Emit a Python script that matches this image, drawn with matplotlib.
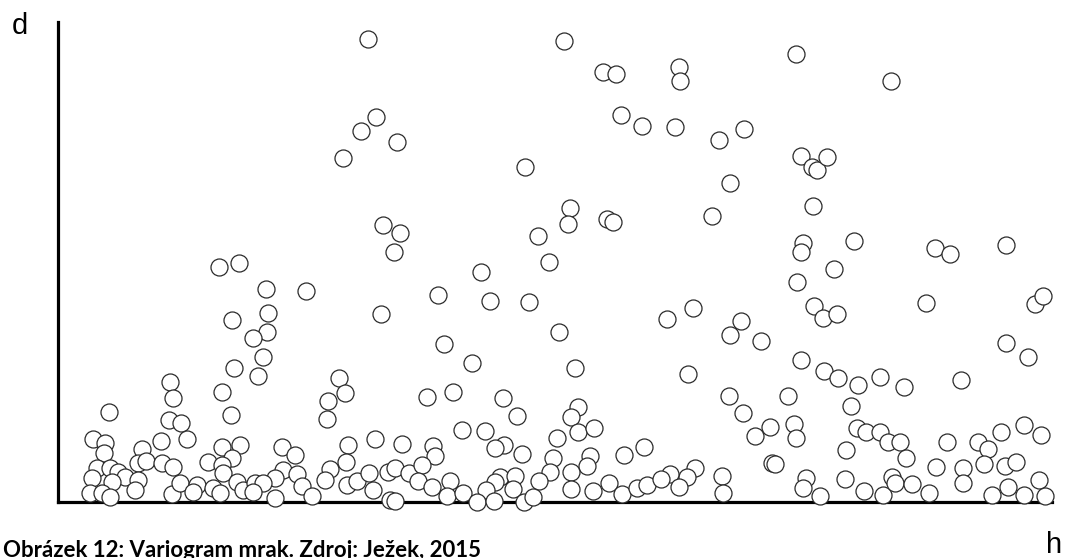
import matplotlib
matplotlib.use('Agg')
import matplotlib.pyplot as plt

# variogram cloud: lag distance h vs. half squared difference d (arbitrary units)
h = [310, 318, 303, 339, 285, 325, 342, 336, 161, 181, 208, 248, 174, 210, 209, 195,
     323, 205, 176, 200, 112, 281, 164,
     506, 545, 558, 621, 622, 563, 584, 617, 661, 672, 467, 512, 510, 549, 555, 654,
     480, 491, 423, 380, 432, 471, 501, 609, 635, 386, 414, 517, 630,
     738, 833, 686, 743, 754, 759, 769, 755, 745, 743, 796, 877, 892, 948, 776, 739,
     756, 765, 779, 868, 977, 985, 683, 672, 703, 948, 970, 743, 766, 780, 800, 822,
     846, 903,
     115, 51, 173, 111, 123, 129, 103, 35, 47, 46, 84, 80, 88, 104, 115, 39, 52, 60,
     67, 34, 54, 80, 77, 32, 44, 52, 114, 122, 139, 135, 150, 164, 182, 174, 164, 165,
     155, 162, 179, 185, 197,
     287, 270, 269, 369, 395, 317, 290, 344, 375, 377, 224, 237, 225, 239, 217, 205,
     195, 217, 244, 254, 272, 267, 288, 289, 299, 311, 315, 330, 337, 351, 364, 360,
     374, 392, 389, 332, 337,
     445, 459, 520, 513, 520, 536, 499, 404, 427, 446, 437, 464, 495, 532, 529, 566,
     586, 492, 513, 481, 442, 457, 437, 455, 428, 405, 419, 436, 466, 475, 513, 535,
     551, 564, 579, 589,
     671, 685, 712, 697, 730, 736, 738, 714, 717, 637, 629, 612, 603, 621, 664, 665,
     748, 745, 762, 788, 787,
     793, 799, 808, 822, 830, 842, 848, 889, 920, 930, 926, 943, 947, 958, 966, 983,
     878, 905, 905, 806, 825, 834, 837, 854, 871, 934, 950, 966, 981, 987]

d = [463, 385, 371, 360, 344, 277, 269, 250, 235, 239, 213, 211, 182, 189, 170, 164,
     188, 145, 134, 126, 120, 124, 110,
     461, 430, 428, 435, 421, 387, 376, 375, 362, 319, 335, 294, 278, 283, 280, 286,
     266, 240, 230, 207, 201, 200, 170, 183, 194, 158, 139, 134, 128,
     448, 421, 373, 346, 335, 332, 345, 296, 259, 250, 261, 254, 248, 257, 233, 220,
     196, 184, 188, 199, 198, 206, 181, 167, 161, 159, 145, 142, 131, 124, 117, 125,
     115, 122,
     104, 90, 87, 82, 79, 63, 61, 63, 59, 49, 53, 39, 41, 39, 35, 34, 34, 30,
     25, 24, 20, 22, 12, 9, 9, 5, 8, 19, 17, 10, 40, 55, 57, 44, 37, 29,
     14, 9, 20, 12, 19,
     109, 101, 83, 105, 110, 63, 57, 58, 56, 46, 55, 47, 32, 28, 24, 19,
     10, 4, 16, 6, 33, 22, 40, 17, 21, 29, 12, 30, 34, 29, 37, 21,
     15, 21, 6, 2, 1,
     104, 86, 95, 85, 70, 74, 64, 72, 71, 57, 54, 48, 44, 46, 36, 47,
     55, 30, 30, 21, 25, 26, 20, 13, 12, 9, 0, 1, 0, 5, 13, 11,
     19, 8, 14, 17,
     106, 89, 75, 66, 106, 78, 64, 39, 38, 34, 25, 28, 23, 15, 26, 9,
     24, 14, 6, 52, 23,
     96, 74, 70, 70, 60, 60, 44, 60, 60, 53, 38, 70, 36, 40, 77, 67,
     35, 34, 19, 11, 7, 25, 19, 18, 9, 7, 15, 7, 22, 6]

caption = "Obrázek 12: Variogram mrak. Zdroj: Ježek, 2015"

W, H = 1069, 558
fig = plt.figure(figsize=(W / 100, H / 100), dpi=100)
ax = fig.add_axes([58 / W, (H - 502) / H, 994 / W, 480 / H])

ax.scatter(h, d, s=150, facecolors='white', edgecolors='#2a2a2a',
           linewidths=0.9, clip_on=False, zorder=3)

ax.set_xlim(0, 994)
ax.set_ylim(0, 480)
ax.set_xticks([])
ax.set_yticks([])
for side in ['top', 'right']:
  ax.spines[side].set_visible(False)
for side in ['left', 'bottom']:
  ax.spines[side].set_linewidth(2.3)
  ax.spines[side].set_color('black')

fig.text(12 / W, 1 - 12 / H, 'd', fontsize=21, family='Liberation Sans',
         ha='left', va='top')
fig.text(1062 / W, 1 - 553 / H, 'h', fontsize=21, family='Liberation Sans',
         ha='right', va='baseline')
# caption is cut by the lower edge in the source too
fig.text(3 / W, 1 / H, caption, fontsize=16, fontweight='bold', family='Lato',
         ha='left', va='baseline')

fig.savefig('out.png', dpi=100)
